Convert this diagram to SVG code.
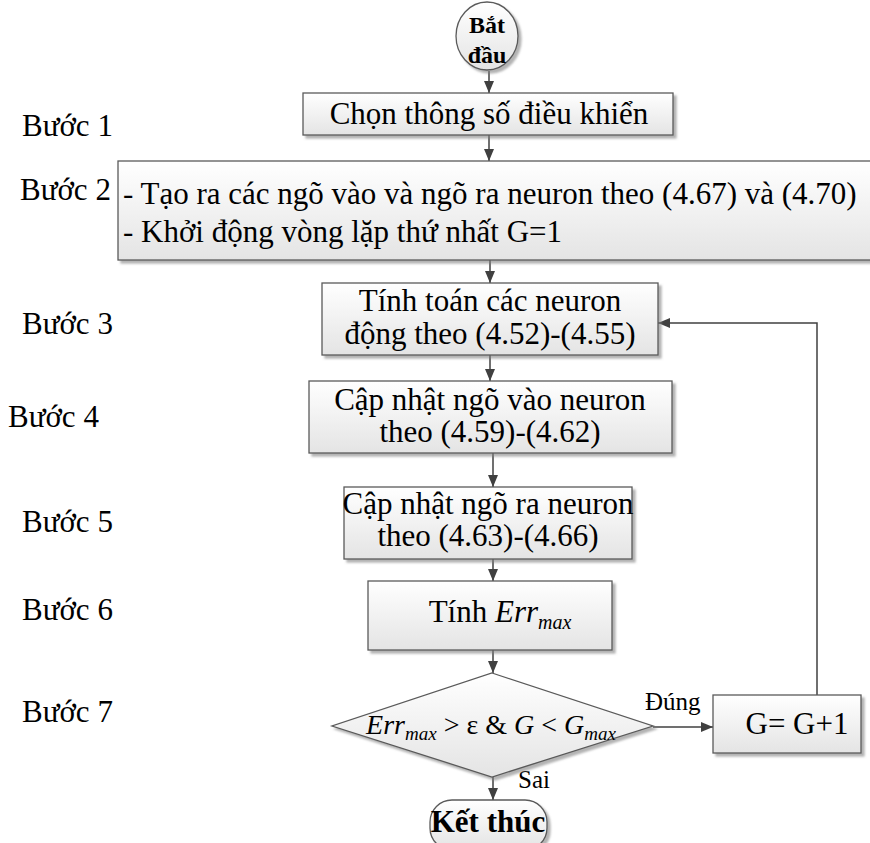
<svg xmlns="http://www.w3.org/2000/svg" width="870" height="843" viewBox="0 0 870 843">
  <defs>
    <linearGradient id="boxFill" x1="0" y1="0" x2="0" y2="1">
      <stop offset="0" stop-color="#ffffff"/>
      <stop offset="1" stop-color="#e4e4e4"/>
    </linearGradient>
    <filter id="shadow" x="-10%" y="-10%" width="130%" height="140%">
      <feDropShadow dx="3" dy="3" stdDeviation="1.2" flood-color="#808080" flood-opacity="0.6"/>
    </filter>
    <marker id="arrow" viewBox="0 0 12 10" refX="12" refY="5" markerWidth="12" markerHeight="10" markerUnits="userSpaceOnUse" orient="auto">
      <path d="M0,0 L12,5 L0,10 Z" fill="#404040"/>
    </marker>
  </defs>
  <style>
    .shape { fill: url(#boxFill); stroke: #5a5a5a; stroke-width: 1.3; filter: url(#shadow); }
    .txt { font-family: "Liberation Serif", "Times New Roman", serif; font-size: 31px; fill: #000; }
    .mid { text-anchor: middle; }
    .bold { font-weight: bold; }
    .lbl { font-family: "Liberation Serif", "Times New Roman", serif; font-size: 25px; fill: #000; }
    .it { font-style: italic; }
    .sub { font-size: 20px; font-style: italic; }
    .conn { fill: none; stroke: #404040; stroke-width: 1.5; marker-end: url(#arrow); }
  </style>

  <!-- step labels -->
  <g id="step-labels" class="txt">
    <text x="22" y="136">Bước 1</text>
    <text x="20" y="200">Bước 2</text>
    <text x="22" y="334">Bước 3</text>
    <text x="8" y="427">Bước 4</text>
    <text x="22" y="532">Bước 5</text>
    <text x="22" y="620">Bước 6</text>
    <text x="22" y="722">Bước 7</text>
  </g>

  <!-- connectors -->
  <g id="connectors">
    <line class="conn" x1="489" y1="71" x2="489" y2="93"/>
    <line class="conn" x1="489" y1="135" x2="489" y2="161"/>
    <line class="conn" x1="490" y1="260" x2="490" y2="283"/>
    <line class="conn" x1="490" y1="355" x2="490" y2="381"/>
    <line class="conn" x1="493" y1="453" x2="493" y2="487"/>
    <line class="conn" x1="493" y1="559" x2="493" y2="581"/>
    <line class="conn" x1="493" y1="650" x2="493" y2="673"/>
    <line class="conn" x1="653" y1="727" x2="713" y2="727"/>
    <line class="conn" x1="493" y1="777" x2="493" y2="800"/>
    <polyline class="conn" points="817,695 817,323 658,323"/>
    <text class="lbl" x="645" y="710">Đúng</text>
    <text class="lbl" x="518" y="788">Sai</text>
  </g>

  <g id="start">
    <ellipse class="shape" cx="487" cy="36" rx="31" ry="34"/>
    <text class="txt mid bold" style="font-size:24px" x="487" y="33">Bắt</text>
    <text class="txt mid bold" style="font-size:24px" x="487" y="63">đầu</text>
  </g>

  <g id="step1">
    <rect class="shape" x="303" y="93" width="370" height="42"/>
    <text class="txt mid" x="489" y="124">Chọn thông số điều khiển</text>
  </g>

  <g id="step2">
    <rect class="shape" x="118" y="161" width="770" height="99"/>
    <text class="txt" x="123" y="204">- Tạo ra các ngõ vào và ngõ ra neuron theo (4.67) và (4.70)</text>
    <text class="txt" x="123" y="242">- Khởi động vòng lặp thứ nhất G=1</text>
  </g>

  <g id="step3">
    <rect class="shape" x="322" y="283" width="336" height="72"/>
    <text class="txt mid" x="490" y="311">Tính toán các neuron</text>
    <text class="txt mid" x="490" y="344">động theo (4.52)-(4.55)</text>
  </g>

  <g id="step4">
    <rect class="shape" x="309" y="381" width="363" height="72"/>
    <text class="txt mid" x="490" y="410">Cập nhật ngõ vào neuron</text>
    <text class="txt mid" x="490" y="442">theo (4.59)-(4.62)</text>
  </g>

  <g id="step5">
    <rect class="shape" x="344" y="487" width="288" height="72"/>
    <text class="txt mid" x="488" y="514">Cập nhật ngõ ra neuron</text>
    <text class="txt mid" x="488" y="546">theo (4.63)-(4.66)</text>
  </g>

  <g id="step6">
    <rect class="shape" x="368" y="581" width="244" height="69"/>
    <text class="txt mid" x="500" y="622">Tính <tspan class="it">Err</tspan><tspan class="sub" dy="7">max</tspan></text>
  </g>

  <g id="decision">
    <polygon class="shape" points="492,673 653,726 492,777 332,726"/>
    <text class="txt mid" style="font-size:28px" x="491" y="734"><tspan class="it">Err</tspan><tspan class="sub" style="font-size:19px" dy="6">max</tspan><tspan dy="-6"> &gt; ε &amp; </tspan><tspan class="it">G</tspan><tspan> &lt; </tspan><tspan class="it">G</tspan><tspan class="sub" style="font-size:19px" dy="6">max</tspan></text>
  </g>

  <g id="increment">
    <rect class="shape" x="713" y="695" width="148" height="58"/>
    <text class="txt mid" x="797" y="734">G= G+1</text>
  </g>

  <g id="end">
    <rect class="shape" x="430" y="800" width="117" height="50" rx="22" ry="22"/>
    <text class="txt mid bold" x="488" y="832">Kết thúc</text>
  </g>
</svg>
